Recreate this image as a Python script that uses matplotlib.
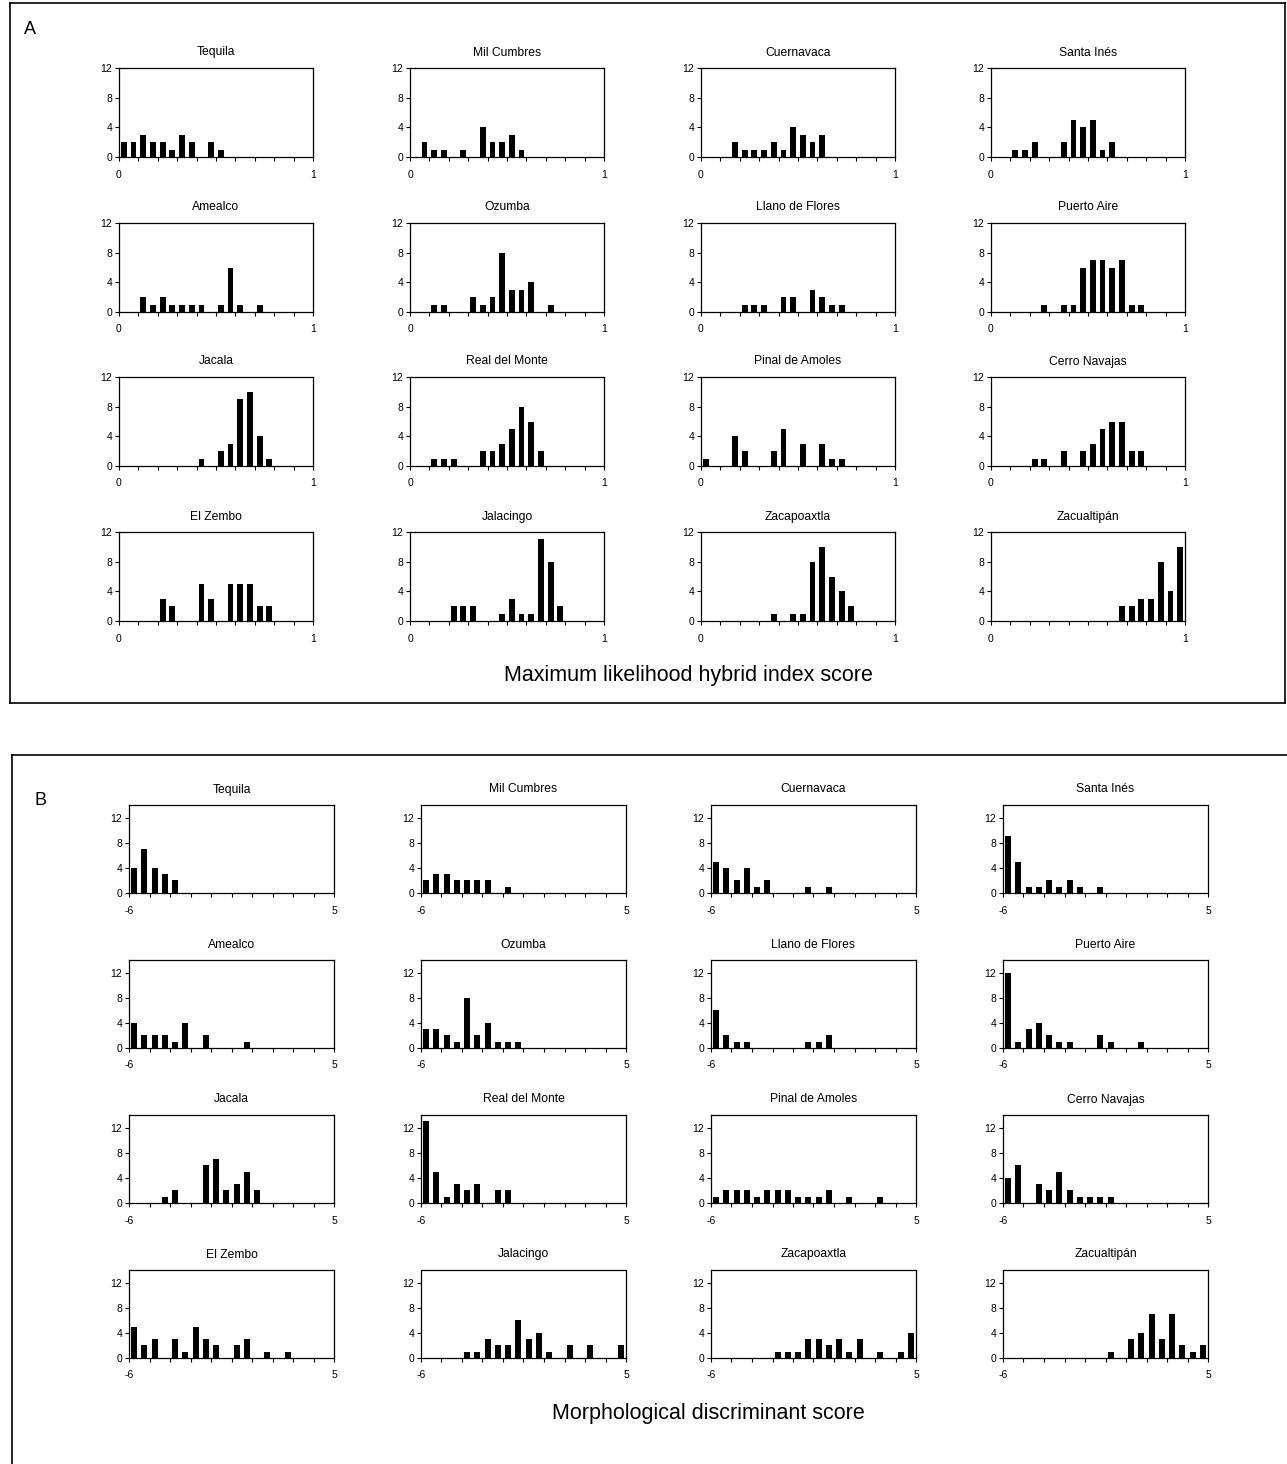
import numpy as np
import matplotlib
matplotlib.use("Agg")
import matplotlib.pyplot as plt
from matplotlib.lines import Line2D

plt.rcParams['font.family'] = ['Liberation Sans', 'DejaVu Sans']

# Site names (same order in both panels)
sites = ['Tequila', 'Mil Cumbres', 'Cuernavaca', 'Santa Inés',
         'Amealco', 'Ozumba', 'Llano de Flores', 'Puerto Aire',
         'Jacala', 'Real del Monte', 'Pinal de Amoles', 'Cerro Navajas',
         'El Zembo', 'Jalacingo', 'Zacapoaxtla', 'Zacualtipán']

# Panel A: maximum likelihood hybrid index, 20 bins over [0, 1]
tequila_hi = [2, 2, 3, 2, 2, 1, 3, 2, 0, 2, 1, 0, 0, 0, 0, 0, 0, 0, 0, 0]
milcumbres_hi = [0, 2, 1, 1, 0, 1, 0, 4, 2, 2, 3, 1, 0, 0, 0, 0, 0, 0, 0, 0]
cuernavaca_hi = [0, 0, 0, 2, 1, 1, 1, 2, 1, 4, 3, 2, 3, 0, 0, 0, 0, 0, 0, 0]
santaines_hi = [0, 0, 1, 1, 2, 0, 0, 2, 5, 4, 5, 1, 2, 0, 0, 0, 0, 0, 0, 0]
amealco_hi = [0, 0, 2, 1, 2, 1, 1, 1, 1, 0, 1, 6, 1, 0, 1, 0, 0, 0, 0, 0]
ozumba_hi = [0, 0, 1, 1, 0, 0, 2, 1, 2, 8, 3, 3, 4, 0, 1, 0, 0, 0, 0, 0]
llano_hi = [0, 0, 0, 0, 1, 1, 1, 0, 2, 2, 0, 3, 2, 1, 1, 0, 0, 0, 0, 0]
puertoaire_hi = [0, 0, 0, 0, 0, 1, 0, 1, 1, 6, 7, 7, 6, 7, 1, 1, 0, 0, 0, 0]
jacala_hi = [0, 0, 0, 0, 0, 0, 0, 0, 1, 0, 2, 3, 9, 10, 4, 1, 0, 0, 0, 0]
realmonte_hi = [0, 0, 1, 1, 1, 0, 0, 2, 2, 3, 5, 8, 6, 2, 0, 0, 0, 0, 0, 0]
pinal_hi = [1, 0, 0, 4, 2, 0, 0, 2, 5, 0, 3, 0, 3, 1, 1, 0, 0, 0, 0, 0]
cerronavajas_hi = [0, 0, 0, 0, 1, 1, 0, 2, 0, 2, 3, 5, 6, 6, 2, 2, 0, 0, 0, 0]
elzembo_hi = [0, 0, 0, 0, 3, 2, 0, 0, 5, 3, 0, 5, 5, 5, 2, 2, 0, 0, 0, 0]
jalacingo_hi = [0, 0, 0, 0, 2, 2, 2, 0, 0, 1, 3, 1, 1, 11, 8, 2, 0, 0, 0, 0]
zacapoaxtla_hi = [0, 0, 0, 0, 0, 0, 0, 1, 0, 1, 1, 8, 10, 6, 4, 2, 0, 0, 0, 0]
zacualtipan_hi = [0, 0, 0, 0, 0, 0, 0, 0, 0, 0, 0, 0, 0, 2, 2, 3, 3, 8, 4, 10]

# Panel B: morphological discriminant score, 20 bins over [-6, 5]
tequila_md = [4, 7, 4, 3, 2, 0, 0, 0, 0, 0, 0, 0, 0, 0, 0, 0, 0, 0, 0, 0]
milcumbres_md = [2, 3, 3, 2, 2, 2, 2, 0, 1, 0, 0, 0, 0, 0, 0, 0, 0, 0, 0, 0]
cuernavaca_md = [5, 4, 2, 4, 1, 2, 0, 0, 0, 1, 0, 1, 0, 0, 0, 0, 0, 0, 0, 0]
santaines_md = [9, 5, 1, 1, 2, 1, 2, 1, 0, 1, 0, 0, 0, 0, 0, 0, 0, 0, 0, 0]
amealco_md = [4, 2, 2, 2, 1, 4, 0, 2, 0, 0, 0, 1, 0, 0, 0, 0, 0, 0, 0, 0]
ozumba_md = [3, 3, 2, 1, 8, 2, 4, 1, 1, 1, 0, 0, 0, 0, 0, 0, 0, 0, 0, 0]
llano_md = [6, 2, 1, 1, 0, 0, 0, 0, 0, 1, 1, 2, 0, 0, 0, 0, 0, 0, 0, 0]
puertoaire_md = [12, 1, 3, 4, 2, 1, 1, 0, 0, 2, 1, 0, 0, 1, 0, 0, 0, 0, 0, 0]
jacala_md = [0, 0, 0, 1, 2, 0, 0, 6, 7, 2, 3, 5, 2, 0, 0, 0, 0, 0, 0, 0]
realmonte_md = [13, 5, 1, 3, 2, 3, 0, 2, 2, 0, 0, 0, 0, 0, 0, 0, 0, 0, 0, 0]
pinal_md = [1, 2, 2, 2, 1, 2, 2, 2, 1, 1, 1, 2, 0, 1, 0, 0, 1, 0, 0, 0]
cerronavajas_md = [4, 6, 0, 3, 2, 5, 2, 1, 1, 1, 1, 0, 0, 0, 0, 0, 0, 0, 0, 0]
elzembo_md = [5, 2, 3, 0, 3, 1, 5, 3, 2, 0, 2, 3, 0, 1, 0, 1, 0, 0, 0, 0]
jalacingo_md = [0, 0, 0, 0, 1, 1, 3, 2, 2, 6, 3, 4, 1, 0, 2, 0, 2, 0, 0, 2]
zacapoaxtla_md = [0, 0, 0, 0, 0, 0, 1, 1, 1, 3, 3, 2, 3, 1, 3, 0, 1, 0, 1, 4]
zacualtipan_md = [0, 0, 0, 0, 0, 0, 0, 0, 0, 0, 1, 0, 3, 4, 7, 3, 7, 2, 1, 2]

hi_counts = [tequila_hi, milcumbres_hi, cuernavaca_hi, santaines_hi,
             amealco_hi, ozumba_hi, llano_hi, puertoaire_hi,
             jacala_hi, realmonte_hi, pinal_hi, cerronavajas_hi,
             elzembo_hi, jalacingo_hi, zacapoaxtla_hi, zacualtipan_hi]
md_counts = [tequila_md, milcumbres_md, cuernavaca_md, santaines_md,
             amealco_md, ozumba_md, llano_md, puertoaire_md,
             jacala_md, realmonte_md, pinal_md, cerronavajas_md,
             elzembo_md, jalacingo_md, zacapoaxtla_md, zacualtipan_md]

W, H = 1287, 1464
fig = plt.figure(figsize=(W / 100, H / 100), dpi=100)


def px_axes(left, top, width, height):
    return fig.add_axes([left / W, 1 - (top + height) / H, width / W, height / H])


def draw_hist(ax, counts, lo, hi, ymax, title):
    n = len(counts)
    bw = (hi - lo) / n
    centers = lo + (np.arange(n) + 0.5) * bw
    ax.bar(centers, counts, width=bw * 0.6, color='black')
    ax.set_xlim(lo, hi)
    ax.set_ylim(0, ymax)
    ax.set_yticks([0, 4, 8, 12])
    ticks = np.linspace(lo, hi, 11)
    ax.set_xticks(ticks)
    labels = [''] * len(ticks)
    labels[0] = f'{lo:g}'
    labels[-1] = f'{hi:g}'
    ax.set_xticklabels(labels)
    ax.tick_params(axis='both', labelsize=7.5, length=3, width=0.8, direction='out', pad=2)
    ax.tick_params(axis='x', pad=6)
    for sp in ax.spines.values():
        sp.set_linewidth(0.9)
    ax.set_title(title, fontsize=8.7, pad=9)


# Panel A layout
a_lefts = [119, 410, 701, 991]
a_tops = [68, 223, 377, 532]
for i, (name, counts) in enumerate(zip(sites, hi_counts)):
    r, c = divmod(i, 4)
    ax = px_axes(a_lefts[c], a_tops[r], 194, 89)
    draw_hist(ax, counts, 0, 1, 12, name)

# Panel B layout
b_lefts = [129, 421, 711, 1003]
b_tops = [805, 960, 1115, 1270]
for i, (name, counts) in enumerate(zip(sites, md_counts)):
    r, c = divmod(i, 4)
    ax = px_axes(b_lefts[c], b_tops[r], 205, 88)
    draw_hist(ax, counts, -6, 5, 14, name)


def px_line(x0, y0, x1, y1):
    fig.add_artist(Line2D([x0 / W, x1 / W], [1 - y0 / H, 1 - y1 / H],
                          transform=fig.transFigure, color='black', lw=1.2))


# Panel A frame
px_line(10, 3, 1285, 3)
px_line(10, 703, 1285, 703)
px_line(10, 3, 10, 703)
px_line(1285, 3, 1285, 703)
# Panel B frame (open on right and bottom)
px_line(12, 755, 1287, 755)
px_line(12, 755, 12, 1464)

fig.text(30 / W, 1 - 30 / H, 'A', fontsize=13, ha='center', va='center')
fig.text(40 / W, 1 - 800 / H, 'B', fontsize=13, ha='center', va='center')
fig.text(688 / W, 1 - 676 / H, 'Maximum likelihood hybrid index score',
         fontsize=15.5, ha='center', va='center')
fig.text(708 / W, 1 - 1413 / H, 'Morphological discriminant score',
         fontsize=15.5, ha='center', va='center')

fig.savefig('out.png', dpi=100)
